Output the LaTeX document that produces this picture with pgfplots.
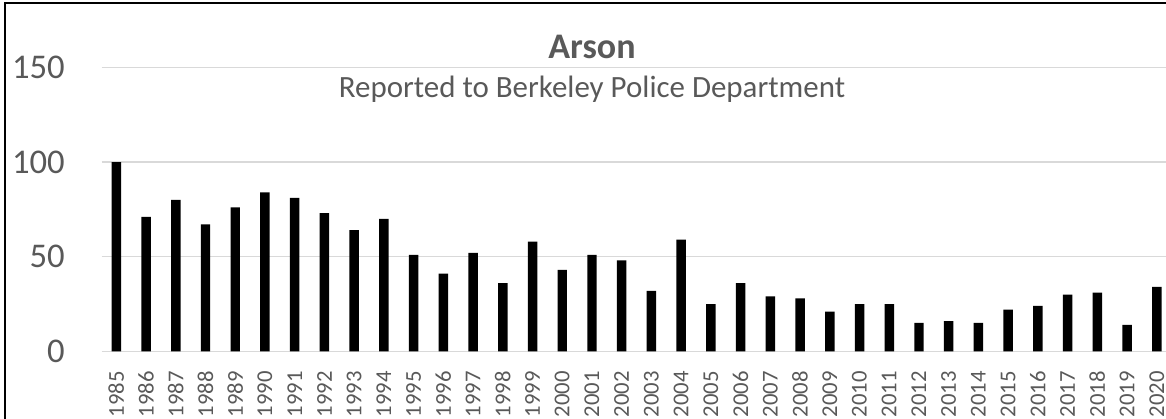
\documentclass[border=0pt]{standalone}
\usepackage{fontspec}
\setmainfont{Carlito}
\usepackage{pgfplots}
\pgfplotsset{compat=1.18}
\definecolor{txtgray}{HTML}{595959}
\definecolor{gridgray}{HTML}{D9D9D9}

\begin{document}
\begin{tikzpicture}
\begin{axis}[
    scale only axis,
    width=798.2pt, height=213pt,
    xmin=1984.509, xmax=2020.309,
    ymin=0, ymax=150,
    ybar, bar width=7.1pt,
    clip=false,
    axis line style={draw=none},
    major tick length=0pt,
    ytick={0,50,100,150},
    xtick={1985,...,2020},
    ymajorgrids,
    grid style={gridgray, line width=0.9pt},
    /pgf/number format/assume math mode=true,
    yticklabel style={font=\fontsize{26}{28}\selectfont, text=txtgray,
        anchor=east, inner sep=0pt, xshift=-27.5pt},
    xticklabel style={font=\fontsize{17}{19}\selectfont, text=txtgray,
        rotate=90, anchor=east, inner sep=0pt, xshift=-14.8pt,
        /pgf/number format/set thousands separator={}},
]
\addplot[fill=black, draw=none] coordinates {
    (1985,100)(1986,71)(1987,80)(1988,67)(1989,76)(1990,84)
    (1991,81)(1992,73)(1993,64)(1994,70)(1995,51)(1996,41)
    (1997,52)(1998,36)(1999,58)(2000,43)(2001,51)(2002,48)
    (2003,32)(2004,59)(2005,25)(2006,36)(2007,29)(2008,28)
    (2009,21)(2010,25)(2011,25)(2012,15)(2013,16)(2014,15)
    (2015,22)(2016,24)(2017,30)(2018,31)(2019,14)(2020,34)
};
\node[anchor=base, text=txtgray, font=\fontsize{27}{30}\selectfont\bfseries]
    at (axis cs:2001,154.6) {Arson};
\node[anchor=base, text=txtgray, font=\fontsize{23.2}{26}\selectfont]
    at (axis cs:2001,134.0) {Reported to Berkeley Police Department};
\end{axis}
% outer chart frame (only top and left edges fall inside the crop)
\draw[line width=1.5pt]
    ([xshift=-72.5pt,yshift=-60pt]current axis.south west)
    |- ([xshift=20pt,yshift=47.9pt]current axis.north east);
\pgfresetboundingbox
\path[use as bounding box]
    ([xshift=-76.3pt,yshift=-50.25pt]current axis.south west)
    rectangle ([yshift=50.5pt]current axis.north east);
\end{tikzpicture}
\end{document}
